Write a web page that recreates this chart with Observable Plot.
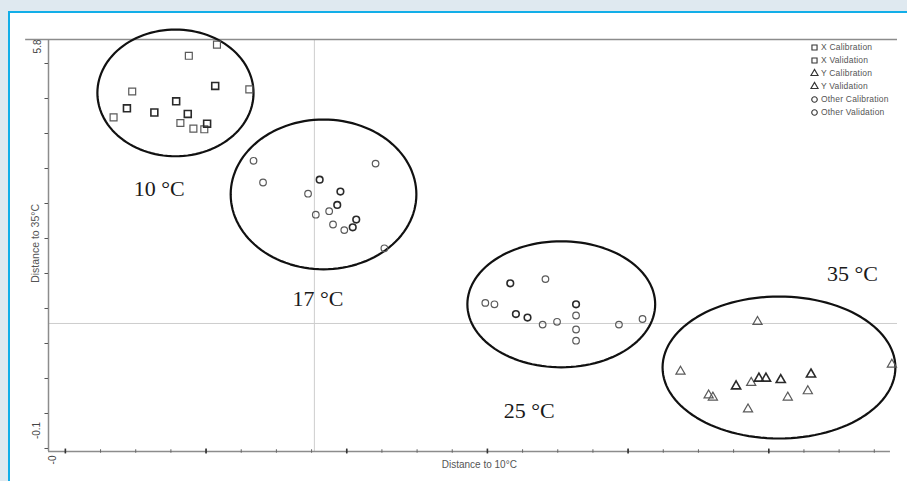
<!DOCTYPE html>
<html>
<head>
<meta charset="utf-8">
<script src="https://cdn.jsdelivr.net/npm/d3@7"></script>
<script src="https://cdn.jsdelivr.net/npm/@observablehq/plot@0.6"></script>
<style>
  html, body { margin: 0; padding: 0; width: 907px; height: 481px; overflow: hidden; background: #dfe9f0; }
  #panel { position: absolute; left: 8px; top: 11px; width: 930px; height: 500px; background: #fff;
           border: 2.5px solid #12aee8; box-sizing: border-box; }
  #chart { position: absolute; left: 0; top: 0; }
  #legend { position: absolute; left: 811px; top: 41px; font: 8.5px "Liberation Sans", Arial, sans-serif;
            color: #555; letter-spacing: 0.2px; }
  #legend .row { height: 13px; line-height: 13px; white-space: nowrap; display: flex; align-items: center; }
  #legend svg { margin-right: 3px; overflow: visible; }
</style>
</head>
<body>
<div id="panel"></div>
<div id="chart"></div>
<div id="legend"></div>
<script>
// Axis extents and reference lines (data units)
const xDomain = [-0.48, 23.66];
const yDomain = [-0.043, 5.843];
const xAxisEnd = 23.46;
const topRuleStart = -1.13;
const xTicks = d3.range(0, 24, 1);
const xMajorTicks = [0, 4, 8, 12, 16, 20];
const yTicks = d3.range(0, 5.75, 0.5);
const crossX = 7.08;
const crossY = 1.786;
const yEndLabels = ["5.8", "-0.1"];
const xStartLabel = "-0";

// Samples: [distance to 10°C, distance to 35°C, set]
const xSamples = [
  [4.31, 5.77, "val"], [3.51, 5.61, "val"], [1.90, 5.10, "val"], [4.26, 5.18, "cal"],
  [5.23, 5.13, "val"], [3.15, 4.96, "cal"], [1.75, 4.86, "cal"], [2.53, 4.80, "cal"],
  [3.48, 4.78, "cal"], [1.37, 4.73, "val"], [3.27, 4.65, "val"], [4.03, 4.64, "cal"],
  [3.64, 4.57, "val"], [3.95, 4.56, "val"]
];
const otherSamples17 = [
  [5.35, 4.11, "val"], [8.82, 4.07, "val"], [5.62, 3.80, "val"], [7.23, 3.84, "cal"],
  [6.90, 3.64, "val"], [7.82, 3.67, "cal"], [7.73, 3.48, "cal"], [7.50, 3.39, "val"],
  [7.12, 3.34, "val"], [8.27, 3.27, "cal"], [7.61, 3.20, "val"], [8.17, 3.16, "cal"],
  [7.93, 3.12, "val"], [9.07, 2.86, "val"]
];
const otherSamples25 = [
  [12.65, 2.36, "cal"], [13.65, 2.42, "val"], [11.94, 2.08, "val"], [12.20, 2.06, "val"],
  [14.52, 2.06, "cal"], [12.81, 1.92, "cal"], [14.52, 1.90, "val"], [13.14, 1.87, "cal"],
  [13.98, 1.81, "val"], [13.57, 1.77, "val"], [15.74, 1.77, "val"], [16.41, 1.85, "val"],
  [14.52, 1.70, "val"], [14.52, 1.54, "val"]
];
const ySamples = [
  [19.68, 1.81, "val"], [17.49, 1.10, "val"], [23.50, 1.20, "val"], [21.20, 1.06, "cal"],
  [19.72, 1.00, "cal"], [19.92, 1.00, "cal"], [20.34, 0.98, "cal"], [19.50, 0.94, "val"],
  [19.07, 0.89, "cal"], [21.11, 0.82, "val"], [18.29, 0.76, "val"], [18.41, 0.73, "val"],
  [20.54, 0.73, "val"], [19.41, 0.56, "val"]
];

// Temperature groups: ellipse centre / radii and label position
const groupNames = ["10 °C", "17 °C", "25 °C", "35 °C"];
const ellipseCx = [3.13, 7.34, 14.10, 20.29];
const ellipseCy = [5.08, 3.63, 2.06, 1.157];
const ellipseRx = [2.22, 2.64, 2.67, 3.31];
const ellipseRy = [0.905, 1.07, 0.90, 1.014];
const labelX = [2.67, 7.18, 13.19, 22.38];
const labelY = [3.71, 2.14, 0.53, 2.49];

const legendItems = [
  {name: "X Calibration", symbol: "square"},
  {name: "X Validation", symbol: "square"},
  {name: "Y Calibration", symbol: "triangle"},
  {name: "Y Validation", symbol: "triangle"},
  {name: "Other Calibration", symbol: "circle"},
  {name: "Other Validation", symbol: "circle"}
];

const outline = groupNames.flatMap((g, i) =>
  d3.range(0, 361, 3).map(a => ({
    group: g,
    x: ellipseCx[i] + ellipseRx[i] * Math.cos(a * Math.PI / 180),
    y: ellipseCy[i] + ellipseRy[i] * Math.sin(a * Math.PI / 180)
  }))
);
const labels = groupNames.map((g, i) => ({text: g, x: labelX[i], y: labelY[i]}));
const others = otherSamples17.concat(otherSamples25);

function samples(data, symbol, r) {
  return ["val", "cal"].map(set =>
    Plot.dot(data.filter(d => d[2] === set), {
      x: d => d[0], y: d => d[1], symbol, r,
      fill: "none",
      stroke: set === "cal" ? "#2a2a2a" : "#5a5a5a",
      strokeWidth: set === "cal" ? 1.6 : 1.2
    })
  );
}

const axisGray = "#8c8c8c";
const chart = Plot.plot({
  width: 907,
  height: 481,
  marginLeft: 48,
  marginRight: 10,
  marginTop: 39,
  marginBottom: 30,
  x: {domain: xDomain, axis: null},
  y: {domain: yDomain, axis: null},
  style: {background: "transparent", overflow: "visible"},
  marks: [
    // crosshair reference lines
    Plot.ruleX([crossX], {y1: yDomain[0], y2: yDomain[1], stroke: "#cdcdcd", strokeWidth: 1}),
    Plot.ruleY([crossY], {x1: xDomain[0], x2: xDomain[1], stroke: "#cdcdcd", strokeWidth: 1}),
    // frame lines
    Plot.ruleY([yDomain[1]], {x1: topRuleStart, x2: xDomain[1], stroke: axisGray, strokeWidth: 1.5}),
    Plot.ruleX([xDomain[0]], {y1: yDomain[0], y2: yDomain[1], stroke: axisGray, strokeWidth: 1.5}),
    Plot.ruleY([yDomain[0]], {x1: xDomain[0], x2: xAxisEnd, stroke: axisGray, strokeWidth: 1.5}),
    // ticks
    Plot.ruleY(yTicks, {x1: xDomain[0] - 0.1, x2: xDomain[0], stroke: "#555", strokeWidth: 1}),
    Plot.ruleX(xTicks, {y1: yDomain[0] - 0.025, y2: yDomain[0] + 0.025, stroke: "#666", strokeWidth: 1}),
    Plot.ruleX(xMajorTicks, {y1: yDomain[0] - 0.035, y2: yDomain[0] + 0.035, stroke: "#333", strokeWidth: 1.6}),
    // axis end labels
    Plot.text([yEndLabels[0]], {x: xDomain[0], y: yDomain[1], dx: -11, rotate: -90, textAnchor: "end",
      fontSize: 10, fontFamily: "Liberation Sans, Arial", fill: "#444"}),
    Plot.text([yEndLabels[1]], {x: xDomain[0], y: 0.257, dx: -12, rotate: -90, textAnchor: "middle",
      fontSize: 10, fontFamily: "Liberation Sans, Arial", fill: "#444"}),
    Plot.text([xStartLabel], {x: xDomain[0], y: yDomain[0], dx: 4, dy: 4, rotate: -90, textAnchor: "end",
      fontSize: 10, fontFamily: "Liberation Sans, Arial", fill: "#444"}),
    // axis titles
    Plot.text(["Distance to 10°C"], {x: 11.77, y: yDomain[0], dy: 13, fontSize: 10,
      fontFamily: "Liberation Sans, Arial", fill: "#555"}),
    Plot.text(["Distance to 35°C"], {x: xDomain[0], y: 2.93, dx: -13, rotate: -90, fontSize: 10.5,
      fontFamily: "Liberation Sans, Arial", fill: "#555"}),
    // group ellipses
    Plot.line(outline, {x: "x", y: "y", z: "group", stroke: "#111", strokeWidth: 2.2}),
    // samples
    ...samples(xSamples, "square", 3.9),
    ...samples(ySamples, "triangle", 3.4),
    ...samples(others, "circle", 3.3),
    // temperature labels
    Plot.text(labels, {x: "x", y: "y", text: "text", fontSize: 22,
      fontFamily: "Liberation Serif, Times New Roman, serif", fill: "#1a1a1a"})
  ]
});
document.getElementById("chart").appendChild(chart);

// legend
const legend = d3.select("#legend");
const symbolPaths = {
  square: d3.symbol(d3.symbolSquare, 26)(),
  triangle: d3.symbol(d3.symbolTriangle, 22)(),
  circle: d3.symbol(d3.symbolCircle, 24)()
};
legendItems.forEach(item => {
  const row = legend.append("div").attr("class", "row");
  row.append("svg").attr("width", 7).attr("height", 7)
    .append("path").attr("d", symbolPaths[item.symbol])
    .attr("transform", "translate(3.5,3.5)")
    .attr("fill", "none").attr("stroke", "#333").attr("stroke-width", 1.1);
  row.append("span").text(item.name);
});
</script>
</body>
</html>
